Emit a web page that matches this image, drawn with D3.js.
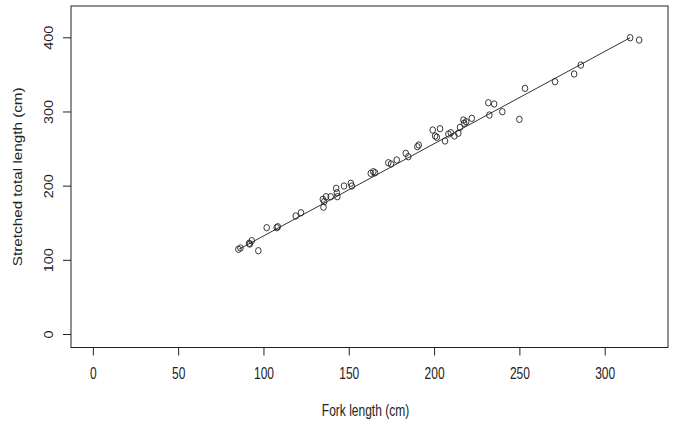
<!DOCTYPE html>
<html><head><meta charset="utf-8">
<script src="https://cdn.jsdelivr.net/npm/d3@7/dist/d3.min.js"></script>
<style>body{margin:0;background:#fff}svg{display:block}text{font-family:"Liberation Sans",Arial,sans-serif;fill:#222}</style>
</head><body><svg id="c" width="673" height="423"></svg>
<script>
const forkLength = [85.3,86.5,91.6,93.1,92.0,97.0,101.9,107.8,108.4,118.9,122.0,134.8,135.6,135.2,136.7,139.4,143.0,143.3,142.6,147.2,151.2,151.8,162.9,164.4,165.4,173.2,174.8,178.1,183.4,184.9,190.2,191.0,199.2,203.5,200.6,201.6,206.4,208.4,209.8,211.9,214.2,215.2,217.2,217.6,218.8,222.1,231.8,235.2,232.4,240.0,250.0,253.3,270.9,282.1,286.0,314.9,320.2];
const totalLength = [114.2,115.9,122.3,125.8,121.3,112.3,143.3,143.3,144.6,159.1,163.5,181.6,178.4,170.9,185.1,185.1,190.5,185.1,196.4,199.5,203.2,199.5,216.6,218.8,217.4,230.9,229.2,234.6,243.6,239.0,252.5,254.8,275.0,276.8,266.9,265.2,260.2,269.6,271.4,266.9,270.6,278.6,288.5,284.0,286.2,290.8,311.8,310.1,295.2,299.7,289.4,331.2,340.1,350.5,362.6,399.4,396.3];
const fitX = [85.8, 314.9];
const fitY = [114.5, 399.4];
const xTicks = [0,50,100,150,200,250,300];
const yTicks = [0,100,200,300,400];
const xTitle = "Fork length (cm)";
const yTitle = "Stretched total length (cm)";

const svg = d3.select("#c");
const L=71, R=668, T=6, B=347.5;
const x = d3.scaleLinear().domain([-12.8,337.1]).range([L,R]);
const y = d3.scaleLinear().domain([-18.2,442.2]).range([B,T]);

svg.append("rect").attr("x",L).attr("y",T).attr("width",R-L).attr("height",B-T)
  .attr("fill","none").attr("stroke","#222").attr("stroke-width",1);

const xa = svg.append("g").attr("transform",`translate(0,${B})`)
  .call(d3.axisBottom(x).tickValues(xTicks).tickSize(8).tickPadding(0).tickFormat(d3.format("d")));
xa.select(".domain").remove();
xa.selectAll("line").attr("stroke","#222");
xa.selectAll("text").attr("font-size",12).attr("dy",0)
  .attr("y",0).attr("transform","translate(0,31) scale(1,1.3)");

const ya = svg.append("g").attr("transform",`translate(${L},0)`)
  .call(d3.axisLeft(y).tickValues(yTicks).tickSize(8).tickFormat(d3.format("d")));
ya.select(".domain").remove();
ya.selectAll("line").attr("stroke","#222");
ya.selectAll("text").attr("x",0).attr("dy",0).attr("font-size",12)
  .attr("text-anchor","middle")
  .attr("transform","translate(-18.5,0) scale(1,1.2) rotate(-90)");

svg.append("path")
  .attr("d", d3.line().x(d=>x(d[0])).y(d=>y(d[1]))(fitX.map((v,i)=>[v,fitY[i]])))
  .attr("stroke","#333").attr("stroke-width",1).attr("fill","none");

svg.append("g").selectAll("ellipse").data(forkLength.map((v,i)=>[v,totalLength[i]])).join("ellipse")
  .attr("cx",d=>x(d[0])).attr("cy",d=>y(d[1])).attr("rx",2.8).attr("ry",3.2)
  .attr("fill","none").attr("stroke","#222").attr("stroke-width",0.9);

svg.append("text").attr("text-anchor","middle").attr("font-size",12)
  .attr("transform",`translate(${(L+R)/2-4},416) scale(1,1.3)`).text(xTitle);
svg.append("text").attr("text-anchor","middle").attr("font-size",12.5)
  .attr("transform",`translate(22,${(T+B)/2}) scale(1,1.22) rotate(-90)`).text(yTitle);
</script></body></html>
